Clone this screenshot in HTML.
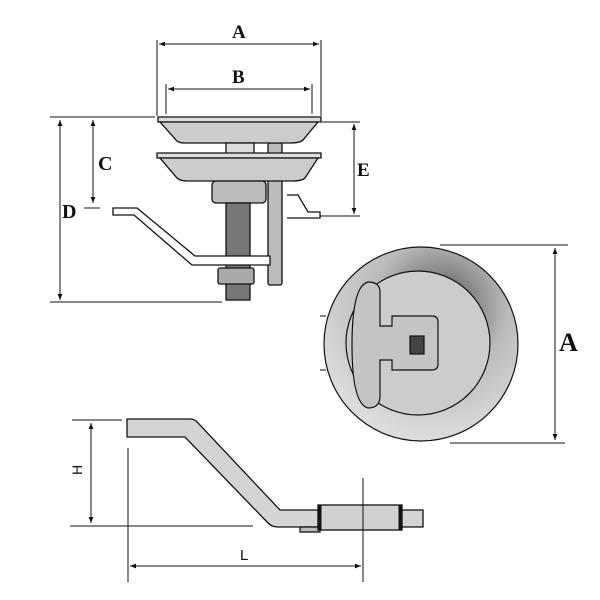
<!DOCTYPE html>
<html><head><style>body{margin:0;background:#fff}svg{display:block}text{font-family:"Liberation Serif",serif;font-weight:bold;fill:#111}</style></head>
<body>
<svg width="600" height="600" viewBox="0 0 600 600" xmlns="http://www.w3.org/2000/svg">
<defs>
<marker id="a" viewBox="0 0 10 10" refX="10" refY="5" markerWidth="8" markerHeight="6" orient="auto-start-reverse"><path d="M0,1 L10,5 L0,9z" fill="#111"/></marker>
<radialGradient id="g" cx="0.6" cy="0.3" r="0.7"><stop offset="0" stop-color="#555"/><stop offset="0.5" stop-color="#bbb"/><stop offset="1" stop-color="#ddd"/></radialGradient>
</defs>
<g stroke="#111" stroke-width="1" fill="none">
<line x1="157" y1="40" x2="157" y2="116"/><line x1="321" y1="40" x2="321" y2="116"/>
<line x1="159" y1="44" x2="319" y2="44" marker-start="url(#a)" marker-end="url(#a)"/>
<line x1="166" y1="84" x2="166" y2="114"/><line x1="312" y1="84" x2="312" y2="114"/>
<line x1="168" y1="89" x2="310" y2="89" marker-start="url(#a)" marker-end="url(#a)"/>
<line x1="50" y1="117" x2="155" y2="117"/><line x1="50" y1="302" x2="222" y2="302"/>
<line x1="60" y1="120" x2="60" y2="300" marker-start="url(#a)" marker-end="url(#a)"/>
<line x1="93" y1="120" x2="93" y2="203" marker-start="url(#a)" marker-end="url(#a)"/>
<line x1="84" y1="208" x2="100" y2="208"/>
<line x1="322" y1="122" x2="360" y2="122"/><line x1="320" y1="216" x2="360" y2="216"/>
<line x1="354" y1="124" x2="354" y2="214" marker-start="url(#a)" marker-end="url(#a)"/>
</g>
<text x="232" y="38" font-size="19">A</text>
<text x="232" y="83" font-size="19">B</text>
<text x="98" y="170" font-size="20">C</text>
<text x="62" y="218" font-size="20">D</text>
<text x="357" y="176" font-size="19">E</text>
<g stroke="#111" stroke-width="1.3" fill="#ccc">
<rect x="268" y="143" width="14" height="142" rx="2" fill="#bbb"/>
<path d="M158,117 H321 V122 H158Z" fill="#ddd"/>
<path d="M160,122 H318 L303,140 Q300,143 290,143 H185 Q178,143 176,140Z"/>
<rect x="226" y="143" width="28" height="11" fill="#ddd"/>
<path d="M157,153 H321 V158 H157Z" fill="#ddd"/>
<path d="M160,158 H318 L305,178 Q302,181 292,181 H188 Q180,181 177,178Z"/>
<rect x="212" y="181" width="54" height="22" rx="4" fill="#bbb"/>
<rect x="226" y="203" width="24" height="97" fill="#777"/>
<path d="M113,208 H137 L195,256 H270 V265 H192 L134,215 H113Z" fill="#fff"/>
<rect x="218" y="268" width="36" height="16" rx="2" fill="#aaa"/>
<path d="M287,195 L298,195 L308,212 H320 V218 H287" fill="none"/>
</g>
<g stroke="#111" stroke-width="1.2">
<circle cx="421" cy="344" r="97" fill="url(#g)"/>
<circle cx="418" cy="343" r="72" fill="#ccc"/>
<path d="M368,282 Q380,282 380,292 V326 H392 V316 H432 Q438,316 438,322 V364 Q438,370 432,370 H392 V360 H380 V396 Q380,408 368,408 Q352,404 352,345 Q352,286 368,282Z" fill="#c4c4c4"/>
<rect x="410" y="336" width="14" height="18" fill="#444"/>
</g>
<g stroke="#111" stroke-width="1" fill="none">
<line x1="440" y1="245" x2="568" y2="245"/><line x1="450" y1="443" x2="565" y2="443"/>
<line x1="555" y1="248" x2="555" y2="440" marker-start="url(#a)" marker-end="url(#a)"/>
<line x1="320" y1="316" x2="326" y2="316"/><line x1="320" y1="370" x2="326" y2="370"/>
</g>
<text x="559" y="351" font-size="26">A</text>
<g stroke="#111" stroke-width="1.3" fill="#d4d4d4">
<path d="M127,419 H190 Q195,419 198,423 L280,510 H423 V527 H278 Q272,527 268,523 L185,437 H127Z"/>
<rect x="300" y="527" width="20" height="5" fill="#bbb"/>
<rect x="318" y="505" width="84" height="25" fill="#d0d0d0"/>
<line x1="320" y1="505" x2="320" y2="530" stroke-width="3"/><line x1="400" y1="505" x2="400" y2="530" stroke-width="3"/>
</g>
<g stroke="#111" stroke-width="1" fill="none">
<line x1="72" y1="420" x2="122" y2="420"/><line x1="70" y1="526" x2="253" y2="526"/>
<line x1="91" y1="423" x2="91" y2="523" marker-start="url(#a)" marker-end="url(#a)"/>
<line x1="128" y1="448" x2="128" y2="582"/><line x1="363" y1="478" x2="363" y2="582"/>
<line x1="130" y1="566" x2="361" y2="566" marker-start="url(#a)" marker-end="url(#a)"/>
</g>
<text x="0" y="0" font-size="14" style="font-weight:normal;font-family:'Liberation Sans',sans-serif" transform="translate(82,475) rotate(-90)">H</text>
<text x="240" y="560" font-size="15" style="font-weight:normal;font-family:'Liberation Sans',sans-serif">L</text>
</svg>
</body></html>
